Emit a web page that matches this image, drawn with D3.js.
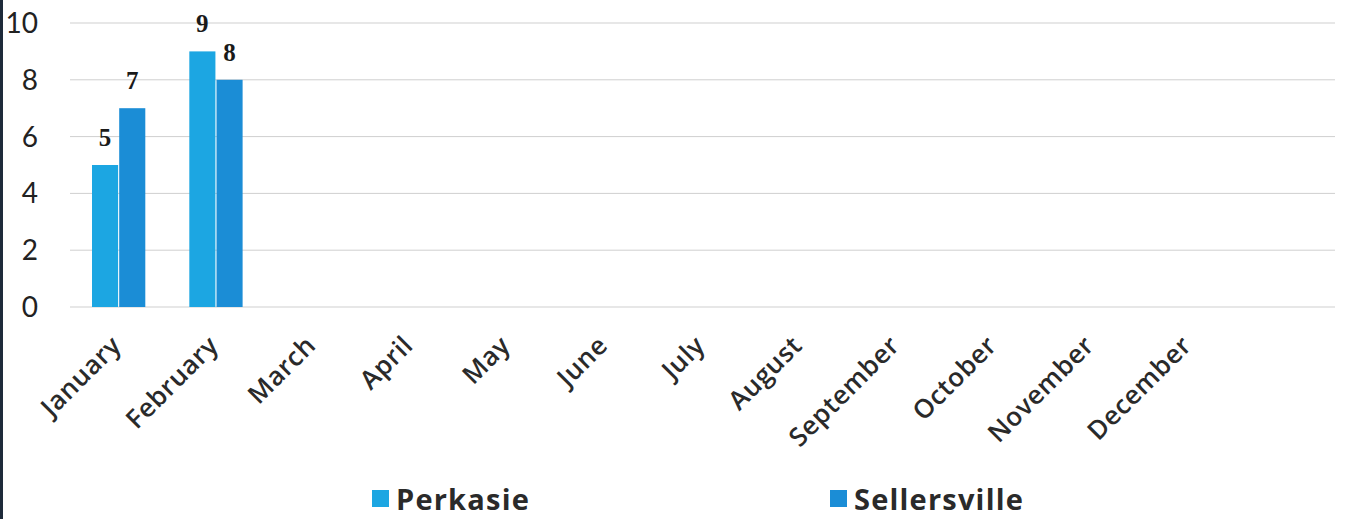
<!DOCTYPE html>
<html>
<head>
<meta charset="utf-8">
<script src="https://cdn.jsdelivr.net/npm/d3@7"></script>
<style>
  body { margin: 0; background: #fff; }
  svg { display: block; }
</style>
</head>
<body>
<div class="canvas"></div>
<script>
// data
const months = ["January", "February", "March", "April", "May", "June", "July",
                "August", "September", "October", "November", "December", ""];
const series = ["Perkasie", "Sellersville"];
const perkasie = [5, 9];
const sellersville = [7, 8];
const yTicks = [0, 2, 4, 6, 8, 10];
const colors = ["#1ca6e2", "#1b8dd6"];

const W = 1349, H = 519;
const margin = { top: 23, right: 14, bottom: 212, left: 70 };
const width = W - margin.left - margin.right;
const height = H - margin.top - margin.bottom;

const svg = d3.select(".canvas")
  .append("svg")
    .attr("width", W)
    .attr("height", H);

// dark edge on the left
svg.append("rect")
  .attr("x", 0).attr("y", 0)
  .attr("width", 3).attr("height", H)
  .attr("fill", "#1e2a3a");

const g = svg.append("g")
  .attr("transform", `translate(${margin.left},${margin.top})`);

const x = d3.scaleBand()
  .domain(months)
  .range([0, width])
  .paddingInner(0.43)
  .paddingOuter(0.215);

const x1 = d3.scaleBand()
  .domain(series)
  .range([0, x.bandwidth()])
  .padding(0.04);

const y = d3.scaleLinear()
  .domain([0, 10])
  .range([height, 0]);

// gridlines
g.append("g")
  .selectAll("line")
  .data(yTicks)
  .join("line")
    .attr("x1", 0)
    .attr("x2", width)
    .attr("y1", d => y(d))
    .attr("y2", d => y(d))
    .attr("stroke", "#cfcfcf")
    .attr("stroke-width", 1);

// y labels
g.append("g")
  .selectAll("text")
  .data(yTicks)
  .join("text")
    .attr("x", -32)
    .attr("y", d => y(d))
    .attr("dy", "0.36em")
    .attr("text-anchor", "end")
    .attr("font-family", "Lato, sans-serif")
    .attr("font-size", 28)
    .attr("fill", "#222")
    .text(d => d);

// bars
const rows = months.map((m, i) => ({
  month: m,
  values: [perkasie[i], sellersville[i]]
})).filter(d => d.values[0] != null);

const groups = g.selectAll(".grp")
  .data(rows)
  .join("g")
    .attr("class", "grp")
    .attr("transform", d => `translate(${x(d.month)},0)`);

groups.selectAll("rect")
  .data(d => d.values.map((v, k) => ({ key: series[k], v, k })))
  .join("rect")
    .attr("x", d => x1(d.key))
    .attr("y", d => y(d.v))
    .attr("width", x1.bandwidth())
    .attr("height", d => y(0) - y(d.v))
    .attr("fill", d => colors[d.k]);

groups.selectAll("text")
  .data(d => d.values.map((v, k) => ({ key: series[k], v, k })))
  .join("text")
    .attr("x", d => x1(d.key) + x1.bandwidth() / 2)
    .attr("y", d => y(d.v) - 19)
    .attr("text-anchor", "middle")
    .attr("font-family", "'Liberation Serif', serif")
    .attr("font-weight", "bold")
    .attr("font-size", 25)
    .attr("fill", "#1a1a1a")
    .text(d => d.v);

// month labels
g.append("g")
  .selectAll("text")
  .data(months)
  .join("text")
    .attr("transform", d => `translate(${x(d) + x.bandwidth() / 2 + 4},${height + 40}) rotate(-45)`)
    .attr("text-anchor", "end")
    .attr("font-family", "'Open Sans', sans-serif")
    .attr("font-weight", 600)
    .attr("font-size", 26)
    .attr("letter-spacing", 0.6)
    .attr("fill", "#2a2a2a")
    .text(d => d);

// legend
const lx = d3.scalePoint()
  .domain(series)
  .range([372, 830]);

const leg = svg.append("g")
  .selectAll("g")
  .data(series)
  .join("g")
    .attr("transform", d => `translate(${lx(d)},490)`);

leg.append("rect")
  .attr("width", 17)
  .attr("height", 17)
  .attr("fill", (d, i) => colors[i]);

leg.append("text")
  .attr("x", 24)
  .attr("y", 20)
  .attr("font-family", "'Open Sans', sans-serif")
  .attr("font-weight", "bold")
  .attr("font-size", 29)
  .attr("letter-spacing", 1.2)
  .attr("fill", "#2a2a2a")
  .text(d => d);
</script>
</body>
</html>
